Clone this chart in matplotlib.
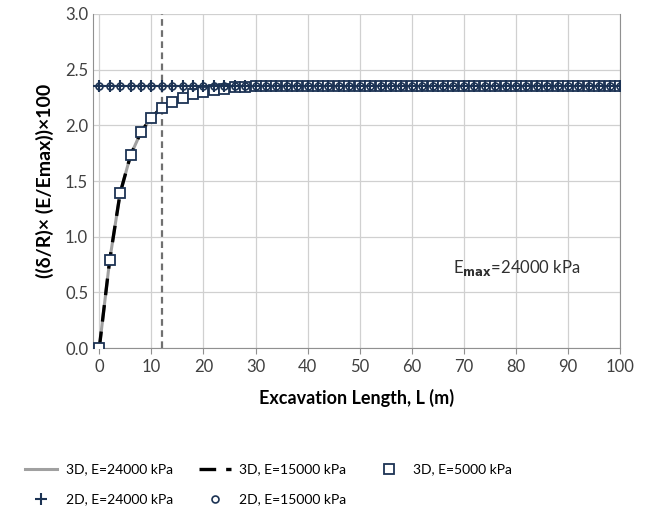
import numpy as np
import matplotlib
matplotlib.use('Agg')
import matplotlib.pyplot as plt

plt.rcParams['font.family'] = ['Lato', 'DejaVu Sans']

# =======================================================
# Data (normalised settlement vs excavation length)
L = [0, 2, 4, 6, 8, 10, 12, 14, 16, 18, 20, 22, 24, 26, 28, 30, 32, 34, 36, 38,
     40, 42, 44, 46, 48, 50, 52, 54, 56, 58, 60, 62, 64, 66, 68, 70, 72, 74, 76,
     78, 80, 82, 84, 86, 88, 90, 92, 94, 96, 98, 100]

curve_3d = [0.00, 0.79, 1.39, 1.73, 1.94, 2.07, 2.16, 2.21, 2.25, 2.28, 2.30,
            2.32, 2.33, 2.34, 2.345, 2.35, 2.35, 2.35, 2.35, 2.35, 2.35, 2.35,
            2.35, 2.35, 2.35, 2.35, 2.35, 2.35, 2.35, 2.35, 2.35, 2.35, 2.35,
            2.35, 2.35, 2.35, 2.35, 2.35, 2.35, 2.35, 2.35, 2.35, 2.35, 2.35,
            2.35, 2.35, 2.35, 2.35, 2.35, 2.35, 2.35]
d3_24000 = curve_3d
d3_15000 = curve_3d
d3_5000 = curve_3d

d2_24000 = [2.35] * len(L)
d2_15000 = [2.35] * len(L)

L_face = 12  # dashed vertical line
navy = '#1c3354'

fig = plt.figure(figsize=(6.46, 5.18), dpi=100)
ax = fig.add_axes([0.144, 0.328, 0.816, 0.645])

h0, = ax.plot(L, d3_24000, color='#a0a0a0', lw=2.2, label='3D, E=24000 kPa', zorder=3)
h1, = ax.plot(L, d3_15000, color='black', lw=2.4, ls=(0, (5, 3)),
              label='3D, E=15000 kPa', zorder=4)
h2, = ax.plot(L, d3_5000, ls='none', marker='s', ms=6.5, mfc='white', mec=navy,
              mew=1.3, label='3D, E=5000 kPa', zorder=5)
h3, = ax.plot(L, d2_24000, ls='none', marker='+', ms=9, mec=navy, mew=1.5,
              label='2D, E=24000 kPa', zorder=6)
h4, = ax.plot(L, d2_15000, ls='none', marker='o', ms=5, mfc='none', mec=navy,
              mew=1.2, label='2D, E=15000 kPa', zorder=6)

ax.axvline(L_face, color='#707070', lw=1.6, ls=(0, (3, 2)), zorder=2)

ax.set_xlim(-1.2, 100)
ax.set_ylim(0, 3.0)
ax.set_xticks(np.arange(0, 101, 10))
ax.set_yticks(np.arange(0, 3.01, 0.5))
ax.yaxis.set_major_formatter(matplotlib.ticker.FormatStrFormatter('%.1f'))
ax.grid(True, color='#d0d0d0', lw=0.9)
ax.set_axisbelow(True)
ax.spines['top'].set_visible(False)
for s in ['left', 'bottom', 'right']:
    ax.spines[s].set_color('#909090')
ax.tick_params(axis='both', labelsize=12, colors='#404040', length=4, color='#909090')
ax.tick_params(axis='y', length=0)

ax.set_xlabel('Excavation Length, L (m)', fontsize=13, fontweight='bold', labelpad=10)
ax.set_ylabel('((δ/R)× (E/Emax))×100', fontsize=14, fontweight='bold', labelpad=8)

ax.text(68, 0.72, r'E$_{\mathbf{max}}$=24000 kPa', fontsize=12, va='center', ha='left',
        color='#303030')

fig.legend([h0, h3, h1, h4, h2],
           [h0.get_label(), h3.get_label(), h1.get_label(), h4.get_label(), h2.get_label()],
           ncol=3, loc='lower left', bbox_to_anchor=(0.02, 0.0), frameon=False,
           fontsize=10, handlelength=2.3, handletextpad=0.6, columnspacing=1.9,
           labelspacing=1.3)

fig.savefig('out.png', dpi=100)
